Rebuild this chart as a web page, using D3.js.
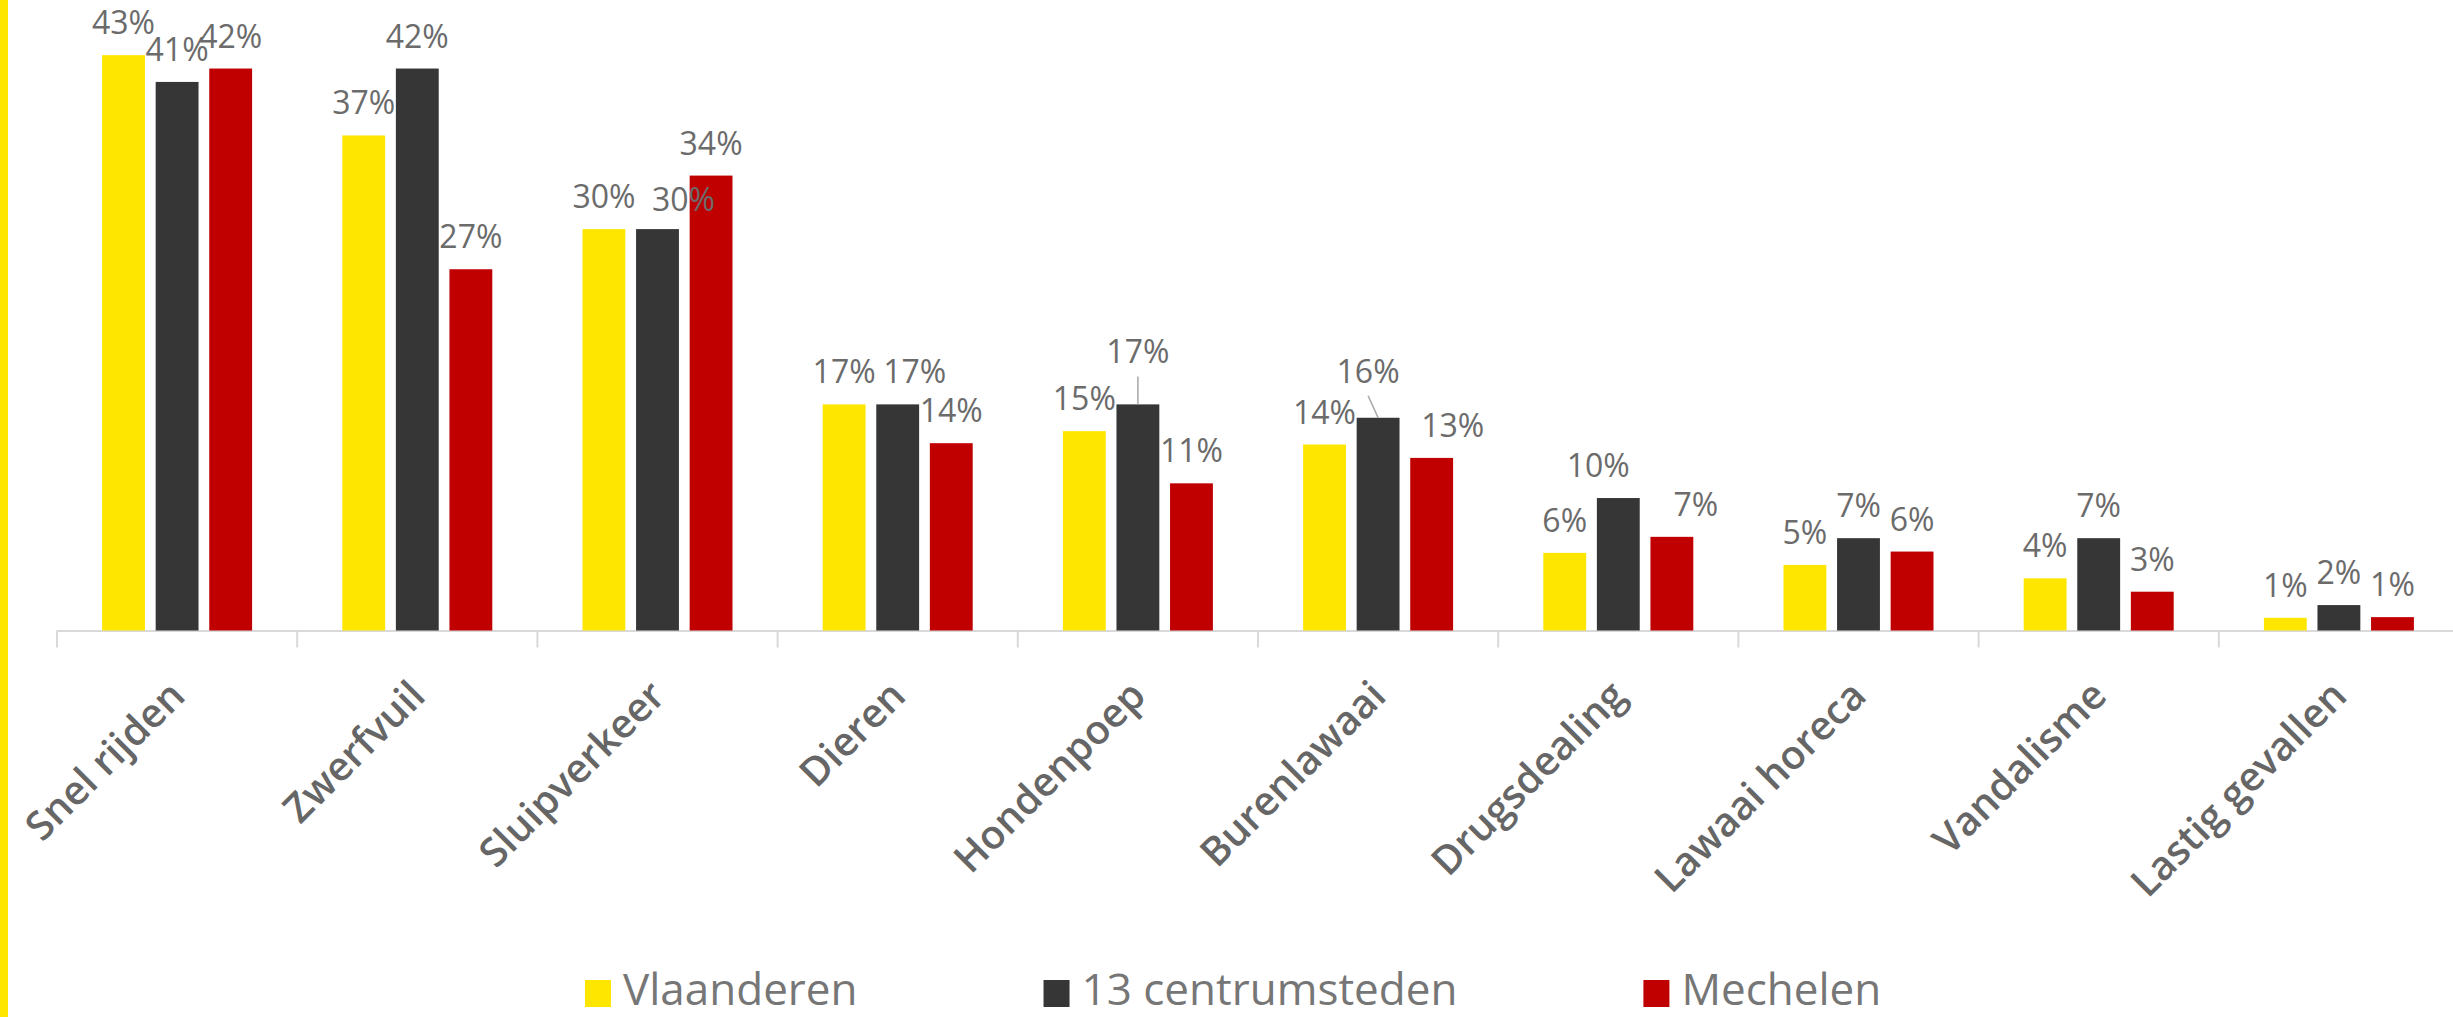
<!DOCTYPE html>
<html>
<head>
<meta charset="utf-8">
<script src="https://cdn.jsdelivr.net/npm/d3@7"></script>
<style>
  html, body { margin: 0; padding: 0; background: #fff; }
  svg { display: block; }
</style>
</head>
<body>
<div id="chart"></div>
<script>
// categories and series
var categories = ["Snel rijden", "Zwerfvuil", "Sluipverkeer", "Dieren", "Hondenpoep",
  "Burenlawaai", "Drugsdealing", "Lawaai horeca", "Vandalisme", "Lastig gevallen"];
var seriesNames = ["Vlaanderen", "13 centrumsteden", "Mechelen"];

// percentages
var vlaanderen = [43, 37, 30, 16.9, 14.9, 13.9, 5.8, 4.9, 3.9, 0.95];
var centrumsteden = [41, 42, 30, 16.9, 16.9, 15.9, 9.9, 6.9, 6.9, 1.9];
var mechelen = [42, 27, 34, 14, 11, 12.9, 7, 5.9, 2.9, 1];

var colors = ["#ffe600", "#363636", "#c00000"];

// manually moved data labels: [category index, series index, dx, dy, leader line]
var labelMoves = [
  [2, 1, 26, 3, false],
  [3, 1, 17, 0, false],
  [4, 1, 0, -20, true],
  [5, 1, -10, -14, true],
  [5, 2, 21, 0, false],
  [6, 1, -20, 0, false],
  [6, 2, 24, 0, false]
];

var width = 2453, height = 1017,
    axisY = 630.5,
    bandStart = 57, bandWidth = 240.2;

var svg = d3.select("#chart").append("svg")
  .attr("width", width)
  .attr("height", height);

// yellow stripe on the left edge
svg.append("rect")
  .attr("x", 0).attr("y", 0)
  .attr("width", 8).attr("height", height)
  .attr("fill", "#ffe600");

var x0 = d3.scaleBand()
  .domain(categories)
  .range([bandStart, bandStart + bandWidth * categories.length])
  .padding(0);

var groupWidth = 150;
var x1 = d3.scaleBand()
  .domain(seriesNames)
  .range([0, groupWidth])
  .paddingInner(0.2)
  .paddingOuter(0);

var y = d3.scaleLinear()
  .domain([0, 45])
  .range([axisY, axisY - 45 * 13.38]);

var table = categories.map(function(c, i) {
  return {
    category: c,
    values: [vlaanderen[i], centrumsteden[i], mechelen[i]].map(function(v, j) {
      return {series: seriesNames[j], value: v, ci: i, si: j};
    })
  };
});

// axis line and ticks between categories
svg.append("line")
  .attr("x1", bandStart).attr("x2", width)
  .attr("y1", axisY + 0.5).attr("y2", axisY + 0.5)
  .attr("stroke", "#d9d9d9").attr("stroke-width", 2);

svg.selectAll(".tick")
  .data(categories)
  .enter().append("line")
  .attr("class", "tick")
  .attr("x1", function(d) { return x0(d); })
  .attr("x2", function(d) { return x0(d); })
  .attr("y1", axisY).attr("y2", axisY + 17)
  .attr("stroke", "#d9d9d9").attr("stroke-width", 2);

var groups = svg.selectAll(".group")
  .data(table)
  .enter().append("g")
  .attr("class", "group")
  .attr("transform", function(d) {
    return "translate(" + (x0(d.category) + (bandWidth - groupWidth) / 2) + ",0)";
  });

groups.selectAll("rect")
  .data(function(d) { return d.values; })
  .enter().append("rect")
  .attr("x", function(d) { return x1(d.series); })
  .attr("y", function(d) { return y(d.value); })
  .attr("width", x1.bandwidth())
  .attr("height", function(d) { return axisY - y(d.value); })
  .attr("fill", function(d, i) { return colors[i]; });

function move(d) {
  for (var k = 0; k < labelMoves.length; k++) {
    var m = labelMoves[k];
    if (m[0] === d.ci && m[1] === d.si) return m;
  }
  return null;
}

// leader lines
groups.selectAll(".leader")
  .data(function(d) { return d.values.filter(function(v) { var m = move(v); return m && m[4]; }); })
  .enter().append("line")
  .attr("class", "leader")
  .attr("x1", function(d) { return x1(d.series) + x1.bandwidth() / 2 + move(d)[2]; })
  .attr("y1", function(d) { return y(d.value) - 21 + move(d)[3] + 13; })
  .attr("x2", function(d) { return x1(d.series) + x1.bandwidth() / 2; })
  .attr("y2", function(d) { return y(d.value); })
  .attr("stroke", "#a6a6a6").attr("stroke-width", 1.5);

groups.selectAll(".value")
  .data(function(d) { return d.values; })
  .enter().append("text")
  .attr("class", "value")
  .attr("x", function(d) {
    var m = move(d);
    return x1(d.series) + x1.bandwidth() / 2 + (m ? m[2] : 0);
  })
  .attr("y", function(d) {
    var m = move(d);
    return y(d.value) - 21 + (m ? m[3] : 0);
  })
  .attr("text-anchor", "middle")
  .style("font-family", "'Open Sans', sans-serif")
  .style("font-size", "32px")
  .style("fill", "#6b6b6b")
  .text(function(d) { return Math.round(d.value) + "%"; });

// rotated category labels
svg.selectAll(".cat")
  .data(categories)
  .enter().append("text")
  .attr("class", "cat")
  .attr("transform", function(d) {
    return "translate(" + (x0(d) + bandWidth / 2 + 10) + "," + 698 + ") rotate(-45)";
  })
  .attr("text-anchor", "end")
  .style("font-family", "'Open Sans', sans-serif")
  .style("font-size", "40px")
  .style("font-weight", "600")
  .style("fill", "#666666")
  .text(function(d) { return d; });

// legend
var legend = svg.append("g").attr("class", "legend");
var lx = 585;
seriesNames.forEach(function(name, i) {
  legend.append("rect")
    .attr("x", lx).attr("y", 980)
    .attr("width", 26).attr("height", 27)
    .attr("fill", colors[i]);
  var t = legend.append("text")
    .attr("x", lx + 38).attr("y", 1005)
    .style("font-family", "'Open Sans', sans-serif")
    .style("font-size", "44px")
    .style("fill", "#767676")
    .text(name);
  lx += 38 + t.node().getComputedTextLength() + 186;
});
</script>
</body>
</html>
